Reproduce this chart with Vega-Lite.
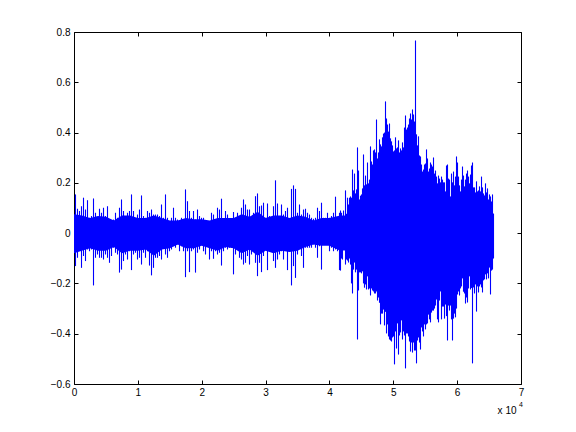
{"$schema":"https://vega.github.io/schema/vega-lite/v6.json","width":447,"height":352,"autosize":"none","padding":{"left":74,"top":32,"right":55,"bottom":48},"background":"white","config":{"view":{"stroke":"black","strokeWidth":1},"axis":{"grid":false,"domain":false,"tickColor":"black","tickSize":-4,"tickWidth":1,"labelFont":"Liberation Sans","labelFontSize":10,"labelColor":"black","title":null}},
"datasets":{"core":[{"x":0,"hi":0.075,"lo":-0.08},{"x":1250,"hi":0.07,"lo":-0.07},{"x":2500,"hi":0.06,"lo":-0.06},{"x":3750,"hi":0.068,"lo":-0.07},{"x":5000,"hi":0.065,"lo":-0.07},{"x":6250,"hi":0.05,"lo":-0.055},{"x":7500,"hi":0.07,"lo":-0.08},{"x":8750,"hi":0.07,"lo":-0.07},{"x":10000,"hi":0.06,"lo":-0.07},{"x":11250,"hi":0.06,"lo":-0.065},{"x":12500,"hi":0.07,"lo":-0.09},{"x":13750,"hi":0.06,"lo":-0.065},{"x":15000,"hi":0.05,"lo":-0.06},{"x":16250,"hi":0.05,"lo":-0.045},{"x":17500,"hi":0.06,"lo":-0.06},{"x":18750,"hi":0.055,"lo":-0.06},{"x":20000,"hi":0.055,"lo":-0.05},{"x":21250,"hi":0.05,"lo":-0.06},{"x":22500,"hi":0.06,"lo":-0.07},{"x":23750,"hi":0.06,"lo":-0.055},{"x":25000,"hi":0.06,"lo":-0.06},{"x":26250,"hi":0.075,"lo":-0.08},{"x":27500,"hi":0.065,"lo":-0.065},{"x":28750,"hi":0.085,"lo":-0.09},{"x":30000,"hi":0.06,"lo":-0.07},{"x":31250,"hi":0.07,"lo":-0.08},{"x":32500,"hi":0.07,"lo":-0.07},{"x":33750,"hi":0.06,"lo":-0.075},{"x":35000,"hi":0.07,"lo":-0.07},{"x":36250,"hi":0.065,"lo":-0.055},{"x":37500,"hi":0.05,"lo":-0.045},{"x":38750,"hi":0.06,"lo":-0.05},{"x":40000,"hi":0.06,"lo":-0.05},{"x":41700,"hi":0.07,"lo":-0.07}],
"note":[{"x":69300,"y":-0.707,"t":"x 10"}],"exp":[{"x":70300,"y":-0.682,"t":"4"}],
"wave":[{"x":235,"hi":0.154,"lo":-0.131},{"x":548,"hi":0.097,"lo":-0.098},{"x":861,"hi":0.088,"lo":-0.065},{"x":1175,"hi":0.107,"lo":-0.138},{"x":1488,"hi":0.141,"lo":-0.091},{"x":1801,"hi":0.094,"lo":-0.111},{"x":2114,"hi":0.131,"lo":-0.065},{"x":2427,"hi":0.061,"lo":-0.072},{"x":2741,"hi":0.068,"lo":-0.065},{"x":3054,"hi":0.138,"lo":-0.208},{"x":3367,"hi":0.081,"lo":-0.098},{"x":3680,"hi":0.054,"lo":-0.085},{"x":3993,"hi":0.097,"lo":-0.098},{"x":4307,"hi":0.081,"lo":-0.098},{"x":4620,"hi":0.101,"lo":-0.105},{"x":4933,"hi":0.068,"lo":-0.085},{"x":5246,"hi":0.107,"lo":-0.098},{"x":5559,"hi":0.054,"lo":-0.118},{"x":5873,"hi":0.048,"lo":-0.091},{"x":6186,"hi":0.054,"lo":-0.058},{"x":6499,"hi":0.081,"lo":-0.078},{"x":6812,"hi":0.061,"lo":-0.085},{"x":7125,"hi":0.101,"lo":-0.157},{"x":7439,"hi":0.134,"lo":-0.145},{"x":7752,"hi":0.088,"lo":-0.111},{"x":8065,"hi":0.068,"lo":-0.085},{"x":8378,"hi":0.081,"lo":-0.105},{"x":8691,"hi":0.088,"lo":-0.072},{"x":9005,"hi":0.154,"lo":-0.147},{"x":9318,"hi":0.088,"lo":-0.085},{"x":9631,"hi":0.054,"lo":-0.078},{"x":9944,"hi":0.074,"lo":-0.105},{"x":10257,"hi":0.094,"lo":-0.098},{"x":10571,"hi":0.15,"lo":-0.125},{"x":10884,"hi":0.068,"lo":-0.078},{"x":11197,"hi":0.061,"lo":-0.098},{"x":11510,"hi":0.088,"lo":-0.072},{"x":11823,"hi":0.081,"lo":-0.129},{"x":12137,"hi":0.094,"lo":-0.168},{"x":12450,"hi":0.074,"lo":-0.138},{"x":12763,"hi":0.074,"lo":-0.098},{"x":13076,"hi":0.074,"lo":-0.098},{"x":13389,"hi":0.068,"lo":-0.091},{"x":13703,"hi":0.114,"lo":-0.105},{"x":14016,"hi":0.061,"lo":-0.058},{"x":14329,"hi":0.154,"lo":-0.085},{"x":14642,"hi":0.061,"lo":-0.098},{"x":14955,"hi":0.048,"lo":-0.072},{"x":15269,"hi":0.061,"lo":-0.065},{"x":15582,"hi":0.101,"lo":-0.052},{"x":15895,"hi":0.061,"lo":-0.058},{"x":16208,"hi":0.054,"lo":-0.045},{"x":16521,"hi":0.048,"lo":-0.072},{"x":16835,"hi":0.061,"lo":-0.052},{"x":17148,"hi":0.048,"lo":-0.072},{"x":17461,"hi":0.174,"lo":-0.175},{"x":17774,"hi":0.127,"lo":-0.072},{"x":18087,"hi":0.088,"lo":-0.155},{"x":18401,"hi":0.061,"lo":-0.072},{"x":18714,"hi":0.088,"lo":-0.065},{"x":19027,"hi":0.054,"lo":-0.157},{"x":19340,"hi":0.094,"lo":-0.078},{"x":19653,"hi":0.068,"lo":-0.065},{"x":19967,"hi":0.061,"lo":-0.045},{"x":20280,"hi":0.061,"lo":-0.072},{"x":20593,"hi":0.048,"lo":-0.085},{"x":20906,"hi":0.048,"lo":-0.052},{"x":21219,"hi":0.048,"lo":-0.105},
{"x":21532,"hi":0.081,"lo":-0.072},{"x":21846,"hi":0.074,"lo":-0.102},{"x":22159,"hi":0.054,"lo":-0.072},{"x":22472,"hi":0.101,"lo":-0.085},{"x":22785,"hi":0.094,"lo":-0.078},{"x":23098,"hi":0.137,"lo":-0.129},{"x":23412,"hi":0.054,"lo":-0.072},{"x":23725,"hi":0.088,"lo":-0.058},{"x":24038,"hi":0.074,"lo":-0.065},{"x":24351,"hi":0.054,"lo":-0.058},{"x":24664,"hi":0.054,"lo":-0.058},{"x":24978,"hi":0.084,"lo":-0.164},{"x":25291,"hi":0.061,"lo":-0.085},{"x":25604,"hi":0.081,"lo":-0.058},{"x":25917,"hi":0.041,"lo":-0.098},{"x":26230,"hi":0.101,"lo":-0.105},{"x":26544,"hi":0.134,"lo":-0.125},{"x":26857,"hi":0.114,"lo":-0.118},{"x":27170,"hi":0.094,"lo":-0.091},{"x":27483,"hi":0.094,"lo":-0.125},{"x":27796,"hi":0.068,"lo":-0.085},{"x":28110,"hi":0.081,"lo":-0.058},{"x":28423,"hi":0.147,"lo":-0.118},{"x":28736,"hi":0.158,"lo":-0.171},{"x":29049,"hi":0.107,"lo":-0.118},{"x":29362,"hi":0.11,"lo":-0.155},{"x":29676,"hi":0.121,"lo":-0.091},{"x":29989,"hi":0.061,"lo":-0.058},{"x":30302,"hi":0.118,"lo":-0.147},{"x":30615,"hi":0.068,"lo":-0.072},{"x":30928,"hi":0.048,"lo":-0.065},{"x":31242,"hi":0.107,"lo":-0.111},{"x":31555,"hi":0.21,"lo":-0.138},{"x":31868,"hi":0.118,"lo":-0.105},{"x":32181,"hi":0.061,"lo":-0.085},{"x":32494,"hi":0.114,"lo":-0.072},{"x":32808,"hi":0.074,"lo":-0.105},{"x":33121,"hi":0.088,"lo":-0.065},{"x":33434,"hi":0.101,"lo":-0.147},{"x":33747,"hi":0.048,"lo":-0.065},{"x":34060,"hi":0.176,"lo":-0.208},{"x":34374,"hi":0.19,"lo":-0.131},{"x":34687,"hi":0.176,"lo":-0.178},{"x":35000,"hi":0.081,"lo":-0.085},{"x":35313,"hi":0.114,"lo":-0.058},{"x":35626,"hi":0.074,"lo":-0.091},{"x":35940,"hi":0.094,"lo":-0.138},{"x":36253,"hi":0.097,"lo":-0.058},{"x":36566,"hi":0.081,"lo":-0.058},{"x":36879,"hi":0.074,"lo":-0.058},{"x":37192,"hi":0.061,"lo":-0.058},{"x":37506,"hi":0.057,"lo":-0.045},{"x":37819,"hi":0.061,"lo":-0.058},{"x":38132,"hi":0.101,"lo":-0.098},{"x":38445,"hi":0.088,"lo":-0.052},{"x":38758,"hi":0.121,"lo":-0.145},{"x":39072,"hi":0.061,"lo":-0.045},{"x":39385,"hi":0.061,"lo":-0.038},{"x":39698,"hi":0.081,"lo":-0.038},{"x":40011,"hi":0.061,"lo":-0.072},{"x":40324,"hi":0.068,"lo":-0.058},{"x":40638,"hi":0.081,"lo":-0.072},{"x":40951,"hi":0.145,"lo":-0.065},{"x":41264,"hi":0.061,"lo":-0.072},{"x":41577,"hi":0.081,"lo":-0.147},
{"x":41734,"hi":0.09,"lo":-0.149},{"x":41891,"hi":0.081,"lo":-0.101},{"x":42047,"hi":0.07,"lo":-0.105},{"x":42204,"hi":0.09,"lo":-0.069},{"x":42360,"hi":0.07,"lo":-0.069},{"x":42517,"hi":0.17,"lo":-0.125},{"x":42674,"hi":0.077,"lo":-0.105},{"x":42830,"hi":0.141,"lo":-0.109},{"x":42987,"hi":0.114,"lo":-0.117},{"x":43143,"hi":0.141,"lo":-0.101},{"x":43300,"hi":0.146,"lo":-0.125},{"x":43457,"hi":0.141,"lo":-0.2},{"x":43613,"hi":0.253,"lo":-0.24},{"x":43770,"hi":0.17,"lo":-0.145},{"x":43926,"hi":0.237,"lo":-0.117},{"x":44083,"hi":0.158,"lo":-0.156},{"x":44240,"hi":0.174,"lo":-0.145},{"x":44396,"hi":0.341,"lo":-0.423},{"x":44553,"hi":0.249,"lo":-0.228},{"x":44709,"hi":0.134,"lo":-0.156},{"x":44866,"hi":0.149,"lo":-0.156},{"x":45023,"hi":0.154,"lo":-0.16},{"x":45179,"hi":0.178,"lo":-0.152},{"x":45336,"hi":0.313,"lo":-0.2},{"x":45492,"hi":0.19,"lo":-0.217},{"x":45649,"hi":0.229,"lo":-0.204},{"x":45806,"hi":0.194,"lo":-0.224},{"x":45962,"hi":0.281,"lo":-0.172},{"x":46119,"hi":0.198,"lo":-0.224},{"x":46275,"hi":0.213,"lo":-0.22},{"x":46432,"hi":0.345,"lo":-0.248},{"x":46589,"hi":0.285,"lo":-0.22},{"x":46745,"hi":0.273,"lo":-0.228},{"x":46902,"hi":0.329,"lo":-0.232},{"x":47058,"hi":0.333,"lo":-0.24},{"x":47215,"hi":0.321,"lo":-0.24},{"x":47372,"hi":0.452,"lo":-0.232},{"x":47528,"hi":0.297,"lo":-0.268},{"x":47685,"hi":0.321,"lo":-0.256},{"x":47841,"hi":0.373,"lo":-0.277},{"x":47998,"hi":0.353,"lo":-0.363},{"x":48155,"hi":0.345,"lo":-0.32},{"x":48311,"hi":0.381,"lo":-0.32},{"x":48468,"hi":0.396,"lo":-0.304},{"x":48624,"hi":0.4,"lo":-0.367},{"x":48781,"hi":0.524,"lo":-0.313},{"x":48938,"hi":0.456,"lo":-0.399},{"x":49094,"hi":0.432,"lo":-0.363},{"x":49251,"hi":0.404,"lo":-0.411},{"x":49407,"hi":0.436,"lo":-0.423},{"x":49564,"hi":0.377,"lo":-0.427},{"x":49721,"hi":0.365,"lo":-0.431},{"x":49877,"hi":0.349,"lo":-0.415},{"x":50034,"hi":0.325,"lo":-0.411},{"x":50190,"hi":0.329,"lo":-0.522},{"x":50347,"hi":0.381,"lo":-0.391},{"x":50504,"hi":0.337,"lo":-0.459},{"x":50660,"hi":0.341,"lo":-0.359},{"x":50817,"hi":0.369,"lo":-0.483},{"x":50973,"hi":0.321,"lo":-0.407},{"x":51130,"hi":0.337,"lo":-0.395},{"x":51287,"hi":0.329,"lo":-0.347},{"x":51443,"hi":0.361,"lo":-0.423},{"x":51600,"hi":0.341,"lo":-0.391},{"x":51756,"hi":0.42,"lo":-0.407},{"x":51913,"hi":0.468,"lo":-0.538},{"x":52070,"hi":0.412,"lo":-0.399},{"x":52226,"hi":0.42,"lo":-0.399},{"x":52383,"hi":0.432,"lo":-0.411},{"x":52539,"hi":0.456,"lo":-0.431},{"x":52696,"hi":0.476,"lo":-0.471},{"x":52853,"hi":0.452,"lo":-0.435},{"x":53009,"hi":0.492,"lo":-0.475},{"x":53166,"hi":0.472,"lo":-0.435},{"x":53322,"hi":0.444,"lo":-0.467},{"x":53479,"hi":0.766,"lo":-0.467},{"x":53636,"hi":0.393,"lo":-0.518},{"x":53792,"hi":0.349,"lo":-0.427},{"x":53949,"hi":0.385,"lo":-0.415},{"x":54105,"hi":0.309,"lo":-0.435},{"x":54262,"hi":0.305,"lo":-0.463},{"x":54419,"hi":0.273,"lo":-0.375},{"x":54575,"hi":0.245,"lo":-0.391},{"x":54732,"hi":0.253,"lo":-0.411},{"x":54888,"hi":0.273,"lo":-0.363},{"x":55045,"hi":0.277,"lo":-0.383},{"x":55202,"hi":0.333,"lo":-0.363},{"x":55358,"hi":0.297,"lo":-0.359},{"x":55515,"hi":0.245,"lo":-0.324},{"x":55671,"hi":0.257,"lo":-0.343},{"x":55828,"hi":0.281,"lo":-0.355},{"x":55985,"hi":0.273,"lo":-0.316},{"x":56141,"hi":0.265,"lo":-0.308},{"x":56298,"hi":0.301,"lo":-0.308},{"x":56454,"hi":0.237,"lo":-0.3},{"x":56611,"hi":0.249,"lo":-0.288},{"x":56768,"hi":0.225,"lo":-0.264},{"x":56924,"hi":0.198,"lo":-0.343},{"x":57081,"hi":0.229,"lo":-0.355},{"x":57237,"hi":0.217,"lo":-0.268},{"x":57394,"hi":0.202,"lo":-0.232},{"x":57551,"hi":0.225,"lo":-0.343},{"x":57707,"hi":0.213,"lo":-0.292},{"x":57864,"hi":0.202,"lo":-0.292},{"x":58020,"hi":0.202,"lo":-0.34},{"x":58177,"hi":0.166,"lo":-0.284},{"x":58334,"hi":0.269,"lo":-0.33},{"x":58490,"hi":0.273,"lo":-0.427},{"x":58647,"hi":0.217,"lo":-0.288},{"x":58803,"hi":0.213,"lo":-0.308},{"x":58960,"hi":0.146,"lo":-0.288},{"x":59117,"hi":0.237,"lo":-0.343},{"x":59273,"hi":0.202,"lo":-0.427},{"x":59430,"hi":0.245,"lo":-0.34},{"x":59586,"hi":0.19,"lo":-0.32},{"x":59743,"hi":0.225,"lo":-0.335},{"x":59900,"hi":0.305,"lo":-0.3},{"x":60056,"hi":0.281,"lo":-0.244},{"x":60213,"hi":0.225,"lo":-0.232},{"x":60369,"hi":0.19,"lo":-0.248},{"x":60526,"hi":0.166,"lo":-0.22},{"x":60683,"hi":0.213,"lo":-0.212},{"x":60839,"hi":0.265,"lo":-0.18},{"x":60996,"hi":0.229,"lo":-0.233},{"x":61152,"hi":0.186,"lo":-0.24},{"x":61309,"hi":0.213,"lo":-0.28},{"x":61466,"hi":0.237,"lo":-0.256},{"x":61622,"hi":0.249,"lo":-0.276},{"x":61779,"hi":0.225,"lo":-0.22},{"x":61935,"hi":0.198,"lo":-0.172},{"x":62092,"hi":0.233,"lo":-0.224},{"x":62249,"hi":0.269,"lo":-0.218},{"x":62405,"hi":0.281,"lo":-0.518},{"x":62562,"hi":0.182,"lo":-0.216},{"x":62718,"hi":0.182,"lo":-0.24},{"x":62875,"hi":0.162,"lo":-0.204},{"x":63032,"hi":0.206,"lo":-0.312},{"x":63188,"hi":0.166,"lo":-0.212},{"x":63345,"hi":0.17,"lo":-0.236},{"x":63501,"hi":0.186,"lo":-0.212},{"x":63658,"hi":0.166,"lo":-0.204},{"x":63815,"hi":0.225,"lo":-0.216},{"x":63971,"hi":0.182,"lo":-0.236},{"x":64128,"hi":0.158,"lo":-0.188},{"x":64284,"hi":0.15,"lo":-0.184},{"x":64441,"hi":0.198,"lo":-0.164},{"x":64598,"hi":0.162,"lo":-0.184},{"x":64754,"hi":0.178,"lo":-0.16},{"x":64911,"hi":0.134,"lo":-0.18},{"x":65067,"hi":0.154,"lo":-0.137},{"x":65224,"hi":0.146,"lo":-0.244},{"x":65381,"hi":0.126,"lo":-0.149},{"x":65537,"hi":0.154,"lo":-0.145},{"x":65694,"hi":0.078,"lo":-0.101}]},
"resolve":{"axis":{"x":"independent","y":"independent"}},
"layer":[
{"data":{"name":"core"},"mark":{"type":"area","color":"#0000ff"},"encoding":{"x":{"field":"x","type":"quantitative","scale":{"domain":[0,70000],"nice":false},"axis":{"values":[0,10000,20000,30000,40000,50000,60000,70000],"labelExpr":"datum.value/10000","labelPadding":7,"labelFlush":false}},"y":{"field":"hi","type":"quantitative","scale":{"domain":[-0.6,0.8],"nice":false},"axis":{"values":[-0.6,-0.4,-0.2,0,0.2,0.4,0.6,0.8],"labelExpr":"datum.value==0?'0':replace(format(datum.value,'.1f'),'-','−')","labelPadding":8}},"y2":{"field":"lo"}}},
{"data":{"name":"wave"},"mark":{"type":"rule","color":"#0000ff","strokeWidth":1.1},"encoding":{"x":{"field":"x","type":"quantitative","scale":{"domain":[0,70000],"nice":false},"axis":{"orient":"top","values":[0,10000,20000,30000,40000,50000,60000,70000],"labels":false}},"y":{"field":"hi","type":"quantitative","scale":{"domain":[-0.6,0.8],"nice":false},"axis":{"orient":"right","values":[-0.6,-0.4,-0.2,0,0.2,0.4,0.6,0.8],"labels":false}},"y2":{"field":"lo"}}},
{"data":{"name":"note"},"mark":{"type":"text","font":"Liberation Sans","fontSize":10,"align":"right","baseline":"middle","color":"black"},"encoding":{"x":{"field":"x","type":"quantitative","scale":{"domain":[0,70000],"nice":false},"axis":null},"y":{"field":"y","type":"quantitative","scale":{"domain":[-0.6,0.8],"nice":false},"axis":null},"text":{"field":"t"}}},
{"data":{"name":"exp"},"mark":{"type":"text","font":"Liberation Sans","fontSize":7,"align":"right","baseline":"middle","color":"black"},"encoding":{"x":{"field":"x","type":"quantitative","scale":{"domain":[0,70000],"nice":false},"axis":null},"y":{"field":"y","type":"quantitative","scale":{"domain":[-0.6,0.8],"nice":false},"axis":null},"text":{"field":"t"}}}
]}
